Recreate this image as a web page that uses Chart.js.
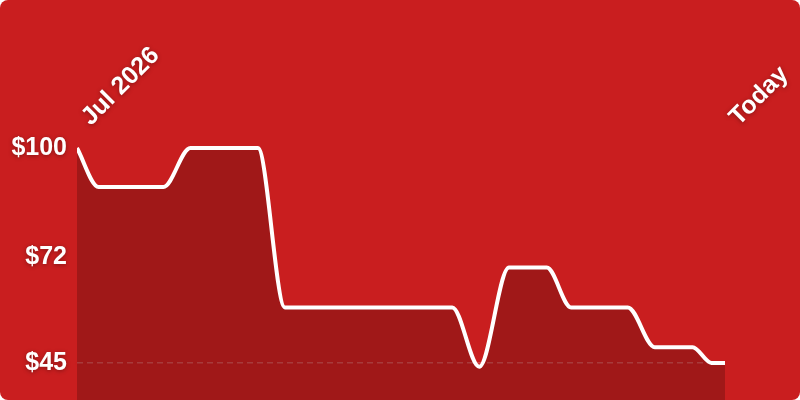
<!DOCTYPE html>
<html>
<head>
<meta charset="utf-8">
<script src="https://cdn.jsdelivr.net/npm/chart.js@4.4.1/dist/chart.umd.min.js"></script>
<style>
  html, body { margin: 0; padding: 0; background: #ffffff; }
  #card { width: 800px; height: 400px; border-radius: 8px; overflow: hidden; background: #c91e1f; position: relative; }
  canvas { display: block; }
</style>
</head>
<body>
<div id="card"><canvas id="c" width="800" height="400"></canvas></div>
<script>
// Days since start (x) and price (y)
const days = [0, 8, 32, 42, 67, 77, 139, 149, 160, 174, 183, 204, 214, 228, 235, 240];
const prices = [100, 90, 90, 100, 100, 59.2, 59.2, 44, 69.4, 69.4, 59.2, 59.2, 49, 49, 45, 45];
const xTickValues = [0, 240];
const xTickLabels = ['Jul 2026', 'Today'];
const yTickValues = [45, 72, 100];
const gridLineValue = 45;

const FONT = { family: '"Liberation Sans", Arial, Helvetica, sans-serif', size: 25, weight: 'bold' };

const textShadow = {
  id: 'textShadow',
  beforeDraw(chart) {
    const ctx = chart.ctx;
    ctx.save();
    ctx.shadowColor = 'rgba(0,0,0,0.35)';
    ctx.shadowBlur = 4;
    ctx.shadowOffsetX = 0;
    ctx.shadowOffsetY = 1;
  },
  beforeDatasetsDraw(chart) {
    chart.ctx.restore();
  }
};

new Chart(document.getElementById('c'), {
  type: 'line',
  data: {
    datasets: [{
      data: days.map((d, i) => ({ x: d, y: prices[i] })),
      borderColor: '#ffffff',
      borderWidth: 4,
      backgroundColor: 'rgba(0,0,0,0.2)',
      fill: 'start',
      pointRadius: 0,
      cubicInterpolationMode: 'monotone',
      clip: { left: 0, right: 0, top: 5, bottom: 0 }
    }]
  },
  options: {
    responsive: false,
    animation: false,
    layout: { padding: { left: 0, right: 75, top: 0, bottom: 0 } },
    plugins: { legend: { display: false }, tooltip: { enabled: false } },
    scales: {
      x: {
        type: 'linear',
        position: 'top',
        min: 0,
        max: 240,
        grid: { display: false },
        border: { display: false },
        afterBuildTicks(axis) { axis.ticks = xTickValues.map(v => ({ value: v })); },
        afterFit(axis) { axis.height = 148; axis.paddingLeft = 0; axis.paddingRight = 0; },
        ticks: {
          autoSkip: false,
          minRotation: 45,
          maxRotation: 45,
          padding: 8,
          labelOffset: 30,
          color: '#ffffff',
          font: FONT,
          callback(value) {
            const i = xTickValues.indexOf(value);
            return i >= 0 ? xTickLabels[i] : '';
          }
        }
      },
      y: {
        min: 35.5,
        max: 100,
        afterBuildTicks(axis) { axis.ticks = yTickValues.map(v => ({ value: v })); },
        afterFit(axis) { axis.width = 77; axis.paddingTop = 0; axis.paddingBottom = 0; },
        border: { display: false, dash: [6, 4] },
        grid: {
          drawTicks: false,
          lineWidth: 1.5,
          color(ctx) { return ctx.tick && ctx.tick.value === gridLineValue ? 'rgba(255,255,255,0.2)' : 'rgba(0,0,0,0)'; }
        },
        ticks: {
          padding: 10,
          color: '#ffffff',
          font: FONT,
          callback(value) { return '$' + value; }
        }
      }
    }
  },
  plugins: [textShadow]
});
</script>
</body>
</html>
